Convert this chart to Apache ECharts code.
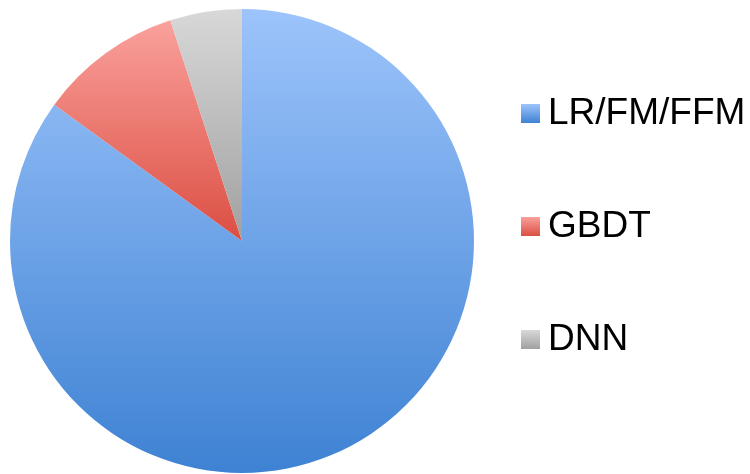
<!DOCTYPE html>
<html><head><meta charset="utf-8">
<script src="https://cdn.jsdelivr.net/npm/echarts@6/dist/echarts.min.js"></script>
<style>html,body{margin:0;padding:0;background:#fff}#c{width:750px;height:474px}</style>
</head><body><div id="c"></div>
<script>
const categories = ["LR/FM/FFM", "GBDT", "DNN"];
const values = [85, 10, 5];
const topColors = ["#9DC4FB", "#FAA19C", "#D8D8D8"];
const bottomColors = ["#3E82D3", "#DB4E42", "#A0A0A0"];

function grad(i) {
  return new echarts.graphic.LinearGradient(0, 0, 0, 1, [
    { offset: 0, color: topColors[i] },
    { offset: 1, color: bottomColors[i] }
  ]);
}

const chart = echarts.init(document.getElementById('c'), null, { renderer: 'canvas' });
chart.setOption({
  animation: false,
  legend: {
    orient: 'vertical',
    left: 516,
    top: 90,
    padding: 5,
    itemWidth: 19,
    itemHeight: 19,
    itemGap: 76,
    icon: 'rect',
    textStyle: { fontSize: 37, color: '#000', fontFamily: 'Liberation Sans, Arial, sans-serif', padding: [0, 0, 0, 3] },
    data: categories
  },
  series: [{
    type: 'pie',
    center: [242, 241],
    radius: [0, 232],
    startAngle: 90,
    clockwise: true,
    label: { show: false },
    labelLine: { show: false },
    itemStyle: { borderWidth: 0 },
    emphasis: { disabled: true },
    data: categories.map((n, i) => ({ name: n, value: values[i], itemStyle: { color: grad(i) } }))
  }]
});
</script></body></html>
